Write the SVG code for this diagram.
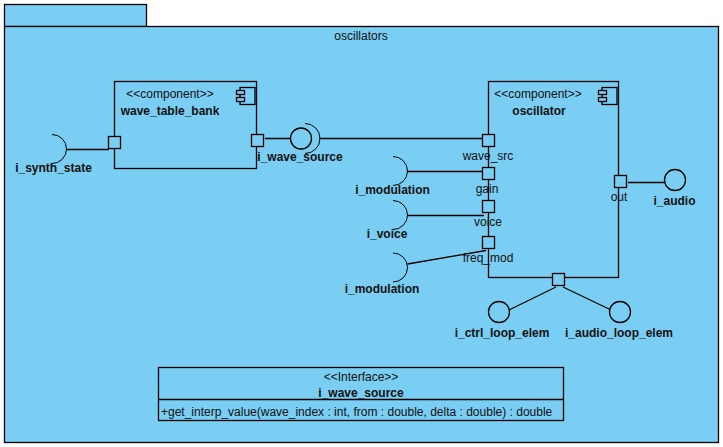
<svg xmlns="http://www.w3.org/2000/svg" width="723" height="447" viewBox="0 0 723 447">
<style>
.s{fill:#7acef4;stroke:#000;stroke-width:1.3}
.l{fill:none;stroke:#000;stroke-width:1.3}
.a{fill:none;stroke:#000;stroke-width:1}
text{font-family:"Liberation Sans",Arial,sans-serif;font-size:12px;fill:#111;text-anchor:middle}
.b{font-weight:bold}
</style>
<defs>
<g id="icon"><rect class="s" x="4" y="0.5" width="15" height="17"/><rect class="s" x="0.5" y="3.5" width="8" height="4"/><rect class="s" x="0.5" y="10.5" width="8" height="4"/></g>
<rect id="port" class="s" width="12" height="12"/>
</defs>
<rect width="723" height="447" fill="#fff"/>
<g id="package-oscillators">
<rect class="s" x="4.5" y="4.5" width="142" height="22"/>
<rect class="s" x="4.5" y="26.5" width="714" height="416"/>
<text x="361" y="40">oscillators</text>
</g>
<g id="wave_table_bank">
<rect class="s" x="114.5" y="81.5" width="142" height="87"/>
<use href="#icon" x="236" y="87"/>
<text x="170" y="98">&lt;&lt;component&gt;&gt;</text>
<text class="b" x="170" y="115">wave_table_bank</text>
</g>
<g id="oscillator">
<rect class="s" x="488.500" y="81.500" width="130" height="196"/>
<use href="#icon" x="598" y="87"/>
<text x="538" y="98">&lt;&lt;component&gt;&gt;</text>
<text class="b" x="539" y="115">oscillator</text>
</g>
<g id="connectors">
<path class="l" d="M66.500 149.500H109M265 138.500H290M319.500 138.500H483M407.500 171.500H482.500M407.500 215.500H484M407.500 264L486 250.500M628 182.500H664.500M510 309.500L556 287M563 287L610 309.500"/>
</g>
<g id="port-synth"><use href="#port" x="108.500" y="136.500"/></g>
<g id="port-wave-out"><use href="#port" x="251.500" y="134.500"/></g>
<g id="port-wave_src"><use href="#port" x="482.500" y="134.500"/><text x="488" y="160">wave_src</text></g>
<g id="port-gain"><use href="#port" x="482.500" y="167.500"/><text x="487" y="193">gain</text></g>
<g id="port-voice"><use href="#port" x="482.500" y="200.500"/><text x="488" y="226">voice</text></g>
<g id="port-freq_mod"><use href="#port" x="482.500" y="236.500"/><text x="488" y="262">freq_mod</text></g>
<g id="port-out"><use href="#port" x="614.500" y="175.500"/><text x="619" y="201">out</text></g>
<g id="port-loop"><use href="#port" x="552.500" y="273.500"/></g>
<g id="i_synth_state">
<path class="a" d="M52 134.500A14.500 14.500 0 0 1 52 163.500"/>
<text class="b" x="53.500" y="172">i_synth_state</text>
</g>
<g id="i_wave_source">
<circle class="s" cx="301" cy="138.500" r="10.500"/>
<path class="a" d="M305 123.500A15 15 0 0 1 305 153.500"/>
<text class="b" x="300" y="161">i_wave_source</text>
</g>
<g id="i_modulation-1">
<path class="a" d="M393 156.500A14.500 14.500 0 0 1 393 185.500"/>
<text class="b" x="392.500" y="194">i_modulation</text>
</g>
<g id="i_voice">
<path class="a" d="M393 200.500A14.500 14.500 0 0 1 393 229.500"/>
<text class="b" x="387" y="238">i_voice</text>
</g>
<g id="i_modulation-2">
<path class="a" d="M393 253A14.500 14.500 0 0 1 393 282"/>
<text class="b" x="382" y="293">i_modulation</text>
</g>
<g id="i_audio">
<circle class="s" cx="675" cy="180" r="10.500"/>
<text class="b" x="674.500" y="205">i_audio</text>
</g>
<g id="i_ctrl_loop_elem">
<circle class="s" cx="499" cy="312" r="10.500"/>
<text class="b" x="502" y="337">i_ctrl_loop_elem</text>
</g>
<g id="i_audio_loop_elem">
<circle class="s" cx="620" cy="312" r="10.500"/>
<text class="b" x="619" y="337">i_audio_loop_elem</text>
</g>
<g id="i_wave_source-class">
<rect class="s" x="158.500" y="367.500" width="405" height="53"/>
<path class="l" d="M158.500 399.500H563.500"/>
<text x="361" y="381">&lt;&lt;Interface&gt;&gt;</text>
<text class="b" x="361" y="397">i_wave_source</text>
<text x="161" y="416" style="text-anchor:start">+get_interp_value(wave_index : int, from : double, delta : double) : double</text>
</g>
</svg>
